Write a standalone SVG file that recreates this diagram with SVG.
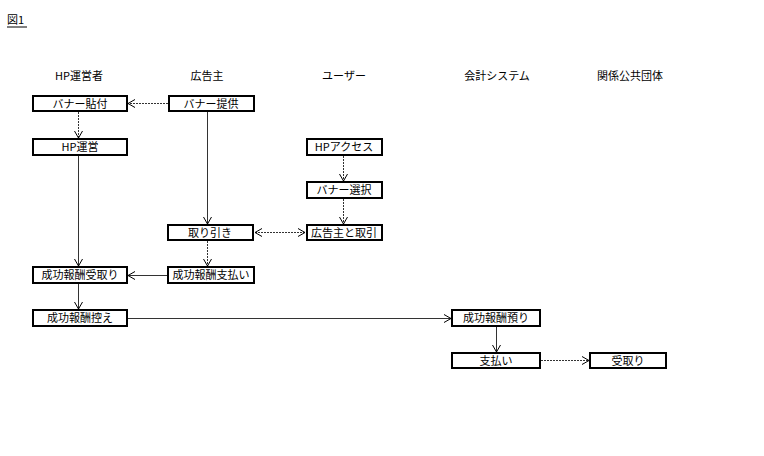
<svg xmlns="http://www.w3.org/2000/svg" width="764" height="456" viewBox="0 0 764 456">
<defs>
<style>
text{font-family:"Noto Sans CJK JP","Liberation Sans",sans-serif;font-size:11px;fill:#000}
.box{fill:#fff;stroke:#000;stroke-width:2}
.lbl{text-anchor:middle}
.c{fill:none;stroke:#333;stroke-width:1}
.d{stroke-dasharray:2 1}
</style>
<marker id="ah" markerWidth="10" markerHeight="10" refX="8" refY="5" orient="auto-start-reverse" markerUnits="userSpaceOnUse">
<path d="M1,1 L8,5 L1,9" fill="none" stroke="#000" stroke-width="1"/>
</marker>
</defs>
<rect width="764" height="456" fill="#fff"/>
<g id="title"><text x="7" y="24" font-size="12">図1</text><line x1="7" y1="27" x2="27" y2="27" stroke="#000" stroke-width="1"/></g>
<g id="headers">
<text class="lbl" x="79" y="80">HP運営者</text>
<text class="lbl" x="207" y="80">広告主</text>
<text class="lbl" x="344" y="80">ユーザー</text>
<text class="lbl" x="497" y="80">会計システム</text>
<text class="lbl" x="630" y="80">関係公共団体</text>
</g>
<g id="connectors">
<line class="c d" x1="168" y1="103.5" x2="128" y2="103.5" marker-end="url(#ah)"/>
<line class="c d" x1="78.5" y1="112" x2="78.5" y2="138" marker-end="url(#ah)"/>
<line class="c" x1="78.5" y1="156" x2="78.5" y2="266" marker-end="url(#ah)"/>
<line class="c" x1="207.5" y1="112" x2="207.5" y2="224" marker-end="url(#ah)"/>
<line class="c d" x1="343.5" y1="156" x2="343.5" y2="181" marker-end="url(#ah)"/>
<line class="c d" x1="343.5" y1="199" x2="343.5" y2="224" marker-end="url(#ah)"/>
<line class="c d" x1="255" y1="232.5" x2="305" y2="232.5" marker-start="url(#ah)" marker-end="url(#ah)"/>
<line class="c d" x1="207.5" y1="241" x2="207.5" y2="266" marker-end="url(#ah)"/>
<line class="c" x1="167" y1="275.5" x2="128" y2="275.5" marker-end="url(#ah)"/>
<line class="c" x1="78.5" y1="284" x2="78.5" y2="309" marker-end="url(#ah)"/>
<line class="c" x1="128" y1="318.5" x2="451" y2="318.5" marker-end="url(#ah)"/>
<line class="c" x1="496.5" y1="327" x2="496.5" y2="352" marker-end="url(#ah)"/>
<line class="c d" x1="541" y1="360.5" x2="589" y2="360.5" marker-end="url(#ah)"/>
</g>
<g id="n1"><rect class="box" x="33" y="96" width="94" height="15"/><text class="lbl" x="80" y="108">バナー貼付</text></g>
<g id="n2"><rect class="box" x="169" y="96" width="85" height="15"/><text class="lbl" x="211" y="108">バナー提供</text></g>
<g id="n3"><rect class="box" x="33" y="139" width="94" height="16"/><text class="lbl" x="80" y="151">HP運営</text></g>
<g id="n4"><rect class="box" x="307" y="139" width="75" height="16"/><text class="lbl" x="344" y="151">HPアクセス</text></g>
<g id="n5"><rect class="box" x="307" y="182" width="75" height="16"/><text class="lbl" x="344" y="194">バナー選択</text></g>
<g id="n6"><rect class="box" x="168" y="225" width="85" height="15"/><text class="lbl" x="210" y="237">取り引き</text></g>
<g id="n7"><rect class="box" x="307" y="225" width="75" height="15"/><text class="lbl" x="344" y="237">広告主と取引</text></g>
<g id="n8"><rect class="box" x="33" y="267" width="94" height="16"/><text class="lbl" x="80" y="279">成功報酬受取り</text></g>
<g id="n9"><rect class="box" x="168" y="267" width="86" height="16"/><text class="lbl" x="211" y="279">成功報酬支払い</text></g>
<g id="n10"><rect class="box" x="33" y="310" width="94" height="16"/><text class="lbl" x="80" y="322">成功報酬控え</text></g>
<g id="n11"><rect class="box" x="452" y="310" width="88" height="16"/><text class="lbl" x="496" y="322">成功報酬預り</text></g>
<g id="n12"><rect class="box" x="452" y="353" width="88" height="15"/><text class="lbl" x="496" y="365">支払い</text></g>
<g id="n13"><rect class="box" x="590" y="353" width="76" height="15"/><text class="lbl" x="628" y="365">受取り</text></g>
</svg>
